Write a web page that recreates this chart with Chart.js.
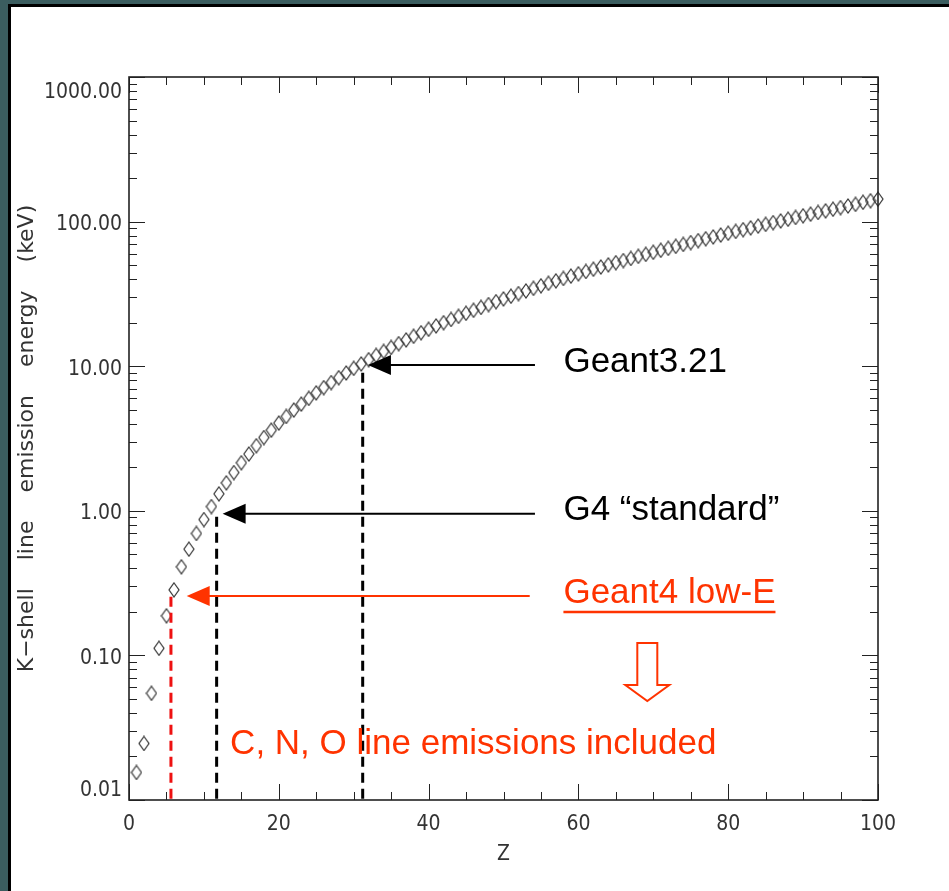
<!DOCTYPE html>
<html>
<head>
<meta charset="utf-8">
<script src="https://cdn.jsdelivr.net/npm/chart.js@4.4.1/dist/chart.umd.min.js"></script>
<style>
  html, body { margin: 0; padding: 0; background: #3b5d5f; }
  #wrap { position: absolute; left: 0; top: 0; width: 949px; height: 891px; }
</style>
</head>
<body>
<div id="wrap"><canvas id="chart-kshell" width="949" height="891"></canvas></div>
<script>
var chart

// atomic number
var Z_VALUES = [
    1, 2, 3, 4, 5, 6, 7, 8, 9, 10,
    11, 12, 13, 14, 15, 16, 17, 18, 19, 20,
    21, 22, 23, 24, 25, 26, 27, 28, 29, 30,
    31, 32, 33, 34, 35, 36, 37, 38, 39, 40,
    41, 42, 43, 44, 45, 46, 47, 48, 49, 50,
    51, 52, 53, 54, 55, 56, 57, 58, 59, 60,
    61, 62, 63, 64, 65, 66, 67, 68, 69, 70,
    71, 72, 73, 74, 75, 76, 77, 78, 79, 80,
    81, 82, 83, 84, 85, 86, 87, 88, 89, 90,
    91, 92, 93, 94, 95, 96, 97, 98, 99, 100
]

// K-shell energy (keV), one per Z
var K_ENERGY = [
    0.0155, 0.0246, 0.0547, 0.112, 0.188, 0.284, 0.410, 0.543, 0.697, 0.870,
    1.07, 1.31, 1.56, 1.84, 2.15, 2.47, 2.82, 3.21, 3.61, 4.04,
    4.49, 4.97, 5.47, 5.99, 6.54, 7.11, 7.71, 8.33, 8.98, 9.66,
    10.37, 11.10, 11.87, 12.66, 13.47, 14.33, 15.20, 16.10, 17.04, 18.00,
    18.99, 20.00, 21.04, 22.12, 23.22, 24.35, 25.51, 26.71, 27.94, 29.20,
    30.49, 31.81, 33.17, 34.56, 35.98, 37.44, 38.92, 40.44, 41.99, 43.57,
    45.18, 46.83, 48.52, 50.24, 52.00, 53.79, 55.62, 57.49, 59.39, 61.33,
    63.31, 65.35, 67.42, 69.53, 71.68, 73.87, 76.11, 78.39, 80.72, 83.10,
    85.53, 88.00, 90.53, 93.11, 95.73, 98.40, 101.1, 103.9, 106.8, 109.7,
    112.6, 115.6, 118.7, 121.8, 125.0, 128.2, 131.6, 136.0, 139.5, 143.1
]

var X_TICKS = [0, 20, 40, 60, 80, 100]
var Y_TICKS = [0.01, 0.1, 1, 10, 100, 1000]

// overlay annotations, in data units (Z, keV)
var DASH_Z = [5.6, 11.7, 31.2]
var DASH_TOP = [0.254, 0.91, 9.0]

var ARROW_LABELS = ["Geant3.21", "G4 \u201cstandard\u201d", "Geant4 low-E"]
var ARROW_E = [10.2, 0.953, 0.258]
var ARROW_TIP_Z = [31.9, 12.5, 7.7]
var ARROW_TAIL_Z = [54.2, 54.2, 53.5]
var LABEL_Z = 58

var NOTE_TEXT = "C, N, O line emissions included"
var NOTE_Z = 13.5
var NOTE_E = 0.0244
var DOWN_Z = 69.2
var DOWN_TOP_E = 0.122
var DOWN_TIP_E = 0.0484

var COLORES = {
    "teal": "#3b5d5f",
    "axis": "#222222",
    "label": "#333333",
    "mark": "#333333",
    "red": "#ff3300",
    "red_dash": "#ee1111",
}
var DASH_COLORS = [COLORES["red_dash"], "#000000", "#000000"]
var ARROW_COLORS = ["#000000", "#000000", COLORES["red"]]

var AXIS_FONT = "'DejaVu Sans Condensed', 'Liberation Sans Narrow', 'DejaVu Sans', sans-serif"
var NOTE_FONT = "35px 'Liberation Sans', Arial, sans-serif"

// hollow diamond, a bit taller than wide
function makeDiamond(){
    var c = document.createElement("canvas")
    c.width = 12
    c.height = 16
    var g = c.getContext("2d")
    g.strokeStyle = COLORES["mark"]
    g.lineWidth = 1.2
    g.beginPath()
    g.moveTo(6, 1)
    g.lineTo(11, 8)
    g.lineTo(6, 15)
    g.lineTo(1, 8)
    g.closePath()
    g.stroke()
    return c
}

var slidePlugin = {
    id: "slide",
    beforeDraw: function(ch){
        var ctx = ch.ctx
        ctx.save()
        ctx.fillStyle = COLORES["teal"]
        ctx.fillRect(0, 0, ch.width, ch.height)
        ctx.fillStyle = "#000"
        ctx.fillRect(8, 4, ch.width - 8, ch.height - 4)
        ctx.fillStyle = "#fff"
        ctx.fillRect(11, 7, ch.width - 11, ch.height - 7)
        ctx.restore()
    }
}

// box and inward ticks on all four sides (IDL look)
function drawFrame(ch){
    var ctx = ch.ctx
    var a = ch.chartArea
    var xs = ch.scales.x
    var ys = ch.scales.y
    ctx.save()
    ctx.strokeStyle = COLORES["axis"]
    ctx.lineWidth = 1
    ctx.beginPath()
    for (var v = 0; v <= 100; v += 5){
        var px = Math.round(xs.getPixelForValue(v)) + 0.5
        var len = (v % 20 === 0) ? 16 : 8
        ctx.moveTo(px, a.bottom)
        ctx.lineTo(px, a.bottom - len)
        ctx.moveTo(px, a.top)
        ctx.lineTo(px, a.top + len)
    }
    for (var e = -2; e <= 3; e++){
        var dec = Math.pow(10, e)
        for (var m = 1; m <= 9; m++){
            if (e === 3 && m > 1) break
            var py = Math.round(ys.getPixelForValue(m * dec)) + 0.5
            var l2 = (m === 1) ? 16 : 8
            ctx.moveTo(a.left, py)
            ctx.lineTo(a.left + l2, py)
            ctx.moveTo(a.right, py)
            ctx.lineTo(a.right - l2, py)
        }
    }
    ctx.stroke()
    ctx.lineWidth = 1.6
    ctx.strokeRect(a.left, a.top, a.right - a.left, a.bottom - a.top)
    ctx.restore()
}

function drawNotes(ch){
    var ctx = ch.ctx
    var a = ch.chartArea
    var xs = ch.scales.x
    var ys = ch.scales.y
    ctx.save()

    // dashed drop lines
    ctx.lineWidth = 3
    ctx.setLineDash([10, 6])
    for (var i = 0; i < DASH_Z.length; i++){
        var dx = xs.getPixelForValue(DASH_Z[i])
        ctx.strokeStyle = DASH_COLORS[i]
        ctx.beginPath()
        ctx.moveTo(dx, ys.getPixelForValue(DASH_TOP[i]))
        ctx.lineTo(dx, a.bottom)
        ctx.stroke()
    }
    ctx.setLineDash([])

    // arrows with their labels
    ctx.font = NOTE_FONT
    ctx.textBaseline = "middle"
    ctx.textAlign = "left"
    for (var j = 0; j < ARROW_LABELS.length; j++){
        var ay = ys.getPixelForValue(ARROW_E[j])
        var tip = xs.getPixelForValue(ARROW_TIP_Z[j])
        var tail = xs.getPixelForValue(ARROW_TAIL_Z[j])
        var col = ARROW_COLORS[j]
        ctx.strokeStyle = col
        ctx.fillStyle = col
        ctx.lineWidth = 2
        ctx.beginPath()
        ctx.moveTo(tip + 20, ay)
        ctx.lineTo(tail, ay)
        ctx.stroke()
        ctx.beginPath()
        ctx.moveTo(tip, ay)
        ctx.lineTo(tip + 23, ay - 10)
        ctx.lineTo(tip + 23, ay + 10)
        ctx.closePath()
        ctx.fill()

        var tx = xs.getPixelForValue(LABEL_Z)
        ctx.fillText(ARROW_LABELS[j], tx, ay - 3)
        if (col === COLORES["red"]){
            var w = ctx.measureText(ARROW_LABELS[j]).width
            ctx.lineWidth = 2.5
            ctx.beginPath()
            ctx.moveTo(tx, ay + 16)
            ctx.lineTo(tx + w, ay + 16)
            ctx.stroke()
        }
    }

    // hollow down arrow
    var cx = xs.getPixelForValue(DOWN_Z)
    var ty = ys.getPixelForValue(DOWN_TOP_E)
    var tipY = ys.getPixelForValue(DOWN_TIP_E)
    var hy = tipY - 16
    ctx.beginPath()
    ctx.moveTo(cx - 10, ty)
    ctx.lineTo(cx + 10, ty)
    ctx.lineTo(cx + 10, hy)
    ctx.lineTo(cx + 22, hy)
    ctx.lineTo(cx, tipY)
    ctx.lineTo(cx - 22, hy)
    ctx.lineTo(cx - 10, hy)
    ctx.closePath()
    ctx.fillStyle = "#fff"
    ctx.fill()
    ctx.strokeStyle = COLORES["red"]
    ctx.lineWidth = 2
    ctx.stroke()

    ctx.fillStyle = COLORES["red"]
    ctx.fillText(NOTE_TEXT, xs.getPixelForValue(NOTE_Z), ys.getPixelForValue(NOTE_E))
    ctx.restore()
}

var overlayPlugin = {
    id: "overlay",
    afterDatasetsDraw: function(ch){
        drawFrame(ch)
        drawNotes(ch)
    }
}

function init_chart(){
    var puntos = []
    for (var i = 0; i < Z_VALUES.length; i++){
        puntos.push({x: Z_VALUES[i], y: K_ENERGY[i]})
    }

    chart = new Chart(document.getElementById("chart-kshell"), {
        type: "scatter",
        data: {
            datasets: [{
                label: "K-shell line emission energy",
                data: puntos,
                pointStyle: makeDiamond(),
                pointRadius: 6,
                pointHoverRadius: 6,
                showLine: false,
                clip: false,
            }],
        },
        options: {
            responsive: false,
            animation: false,
            devicePixelRatio: 1,
            events: [],
            layout: {
                padding: {left: 10, top: 77, right: 71, bottom: 20},
            },
            plugins: {
                legend: {display: false},
                tooltip: {enabled: false},
            },
            scales: {
                x: {
                    type: "linear",
                    min: 0,
                    max: 100,
                    grid: {display: false, drawTicks: false},
                    border: {display: false},
                    afterBuildTicks: function(s){
                        s.ticks = X_TICKS.map(function(v){ return {value: v} })
                    },
                    afterFit: function(s){ s.height = 71 },
                    ticks: {
                        autoSkip: false,
                        maxRotation: 0,
                        padding: 12,
                        color: COLORES["label"],
                        font: {family: AXIS_FONT, size: 21},
                    },
                    title: {
                        display: true,
                        text: "Z",
                        color: COLORES["label"],
                        font: {family: AXIS_FONT, size: 21},
                        padding: {top: 0, bottom: 4},
                    },
                },
                y: {
                    type: "logarithmic",
                    min: 0.01,
                    max: 1000,
                    grid: {display: false, drawTicks: false},
                    border: {display: false},
                    afterBuildTicks: function(s){
                        s.ticks = Y_TICKS.map(function(v){ return {value: v} })
                    },
                    afterFit: function(s){ s.width = 119 },
                    ticks: {
                        autoSkip: false,
                        padding: 7,
                        labelOffset: 3,
                        color: COLORES["label"],
                        font: {family: AXIS_FONT, size: 21},
                        callback: function(v){
                            var s = Number(v).toFixed(2)
                            if (v === 1000) return ["", s]
                            if (v === 0.01) return [s, ""]
                            return s
                        },
                    },
                    title: {
                        display: true,
                        text: "K\u2212shell    line    emission    energy    (keV)",
                        color: COLORES["label"],
                        font: {family: "'DejaVu Sans', sans-serif", size: 22},
                        padding: {top: 4, bottom: 0},
                    },
                },
            },
        },
        plugins: [slidePlugin, overlayPlugin],
    })
}

init_chart()
</script>
</body>
</html>
